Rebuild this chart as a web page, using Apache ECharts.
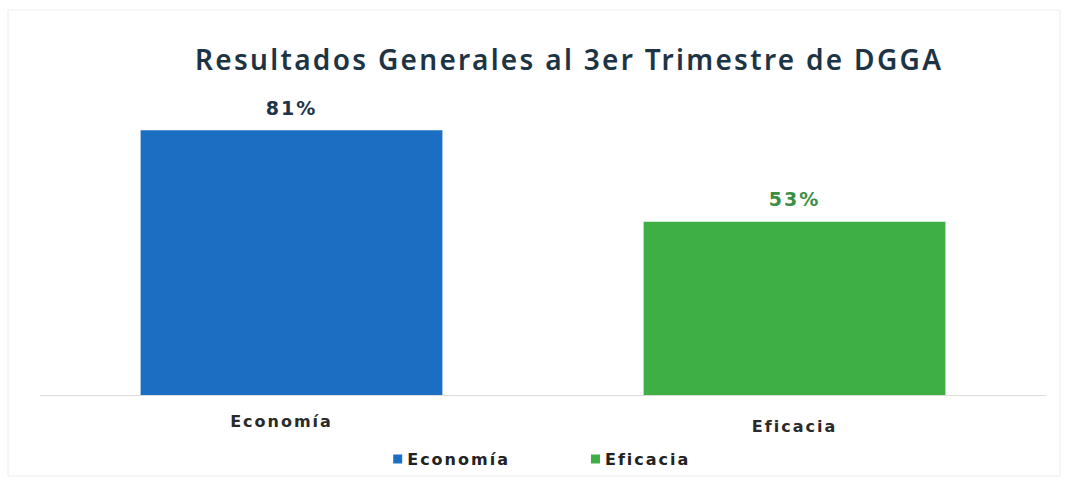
<!DOCTYPE html>
<html>
<head>
<meta charset="utf-8">
<script src="https://cdn.jsdelivr.net/npm/echarts@6/dist/echarts.min.js"></script>
<style>
  html, body { margin: 0; padding: 0; background: #ffffff; }
  #chart { width: 1067px; height: 483px; }
  svg text[style*="DejaVu"] { letter-spacing: 2px; }
  svg text[style*="Noto Sans"] { letter-spacing: 2.3px; }
</style>
</head>
<body>
<div id="chart"></div>
<script>
const titleText = 'Resultados Generales al 3er Trimestre de DGGA';
const categories = ['Economía', 'Eficacia'];
const seriesNames = ['Economía', 'Eficacia'];
const economiaValues = [81, '-'];
const eficaciaValues = ['-', 53];
const seriesColors = ['#1b6ec2', '#3daf45'];
const labelColors = ['#1e3448', '#3b8f45'];

const chart = echarts.init(document.getElementById('chart'), null, { renderer: 'svg' });
const valuesList = [economiaValues, eficaciaValues];

chart.setOption({
  backgroundColor: '#ffffff',
  animation: false,
  title: {
    text: titleText,
    left: 190,
    top: 40,
    textStyle: { fontFamily: 'Noto Sans', fontSize: 28, fontWeight: 600, color: '#1d3445' }
  },
  legend: {
    data: seriesNames,
    top: 446,
    left: 'center',
    itemWidth: 9,
    itemHeight: 9,
    itemGap: 97,
    icon: 'rect',
    textStyle: { fontFamily: 'DejaVu Sans', fontSize: 16, color: '#222222', fontWeight: 'bold' }
  },
  grid: { left: 40, right: 21, top: 68, bottom: 88, containLabel: false },
  xAxis: {
    type: 'category',
    data: [
      { value: categories[0], textStyle: { padding: [0, 20, 0, 0] } },
      { value: categories[1], textStyle: { padding: [5, 0, 0, 0] } }
    ],
    axisLine: { show: true, lineStyle: { color: '#dcdcdc', width: 1 } },
    axisTick: { show: false },
    axisLabel: { margin: 18, fontFamily: 'DejaVu Sans', fontSize: 16, fontWeight: 'bold', color: '#2a2a2a' }
  },
  yAxis: {
    type: 'value',
    min: 0,
    max: 100,
    show: false,
    splitLine: { show: false }
  },
  series: seriesNames.map((name, i) => ({
    name: name,
    type: 'bar',
    stack: 'total',
    barWidth: '60%',
    data: valuesList[i],
    itemStyle: { color: seriesColors[i] },
    label: {
      show: true,
      position: 'top',
      distance: 13,
      formatter: '{c}%',
      fontFamily: 'DejaVu Sans',
      fontSize: 19,
      fontWeight: 'bold',
      color: labelColors[i]
    }
  })),
  graphic: [{
    type: 'rect',
    shape: { x: 8, y: 10, width: 1052, height: 466 },
    style: { fill: 'none', stroke: '#ececec', lineWidth: 1 },
    silent: true,
    z: -1
  }]
});
</script>
</body>
</html>
